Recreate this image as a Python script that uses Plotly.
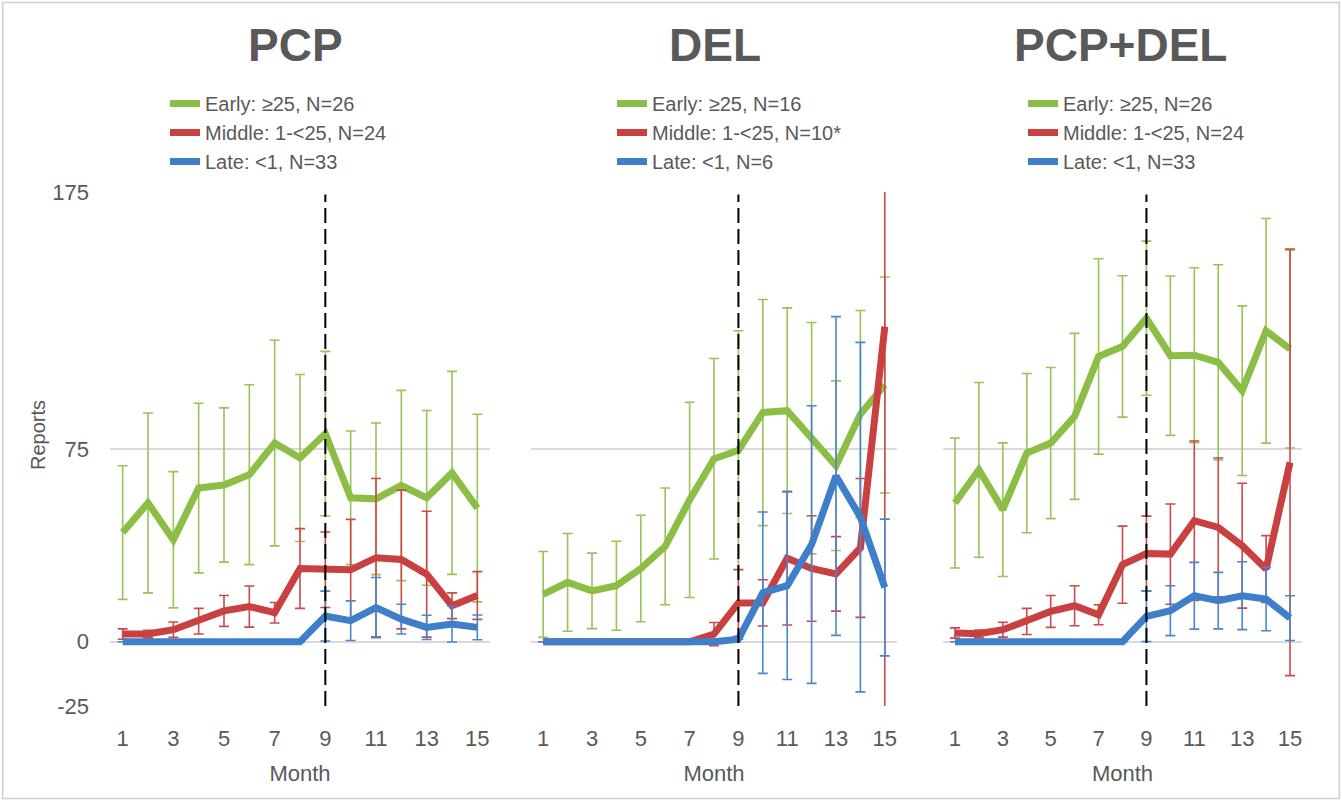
import plotly.graph_objects as go

months = list(range(1, 16))
month_ticks = [1, 3, 5, 7, 9, 11, 13, 15]
y_ticks = [-25, 0, 75, 175]
y_tick_text = ["-25", "0", "75", "175"]

panel_titles = ["PCP", "DEL", "PCP+DEL"]

# ---- PCP ----
pcp_early = [42.5, 54, 39.7, 59.8, 61, 65, 77.3, 71.5, 81, 56, 55.6, 60.8, 56, 65.7, 52]
pcp_early_err = [26, 35, 26.5, 33, 30, 35, 40, 32.5, 32, 26, 29.5, 37, 34, 39.5, 36.5]
pcp_middle = [3, 3, 4.7, 8, 12, 13.7, 11.3, 28.5, 28, 28, 32.7, 32, 26.3, 14, 18]
pcp_middle_err = [2, 1.5, 3, 5, 6, 8, 4, 15.5, 14.7, 19.6, 30.8, 27, 24.5, 5, 9.3]
pcp_late = [0, 0, 0, 0, 0, 0, 0, 0, 10, 8.2, 13.3, 8.8, 5.6, 6.9, 5.6]
pcp_late_err = [0, 0, 0, 0, 0, 0, 0, 0, 9.7, 7.7, 11.7, 5.8, 4.7, 7, 4.8]

# ---- DEL ----
del_early = [18.4, 23.1, 19.8, 21.8, 28.5, 37.1, 55.2, 71.2, 74.5, 89.2, 89.9, 79.2, 68.5, 88.6, 99.9]
del_early_err = [16.7, 19, 14.7, 17.3, 20.7, 22.7, 38, 39, 46.5, 44, 40, 45, 33, 40.3, 42]
del_middle = [0, 0, 0, 0, 0, 0, 0, 3, 15.1, 15.1, 32.5, 28.5, 26.4, 36.5, 122.6]
del_middle_err = [0, 0, 0, 0, 0, 0, 0, 4.5, 13, 9, 26, 20.5, 14.5, 27, 200]
del_late = [0, 0, 0, 0, 0, 0, 0, 0, 1, 19.1, 21.8, 37.8, 64.5, 48.5, 21.1]
del_late_err = [0, 0, 0, 0, 0, 0, 0, 0, 0, 31.4, 36.5, 54, 62, 68, 26.6]

# ---- PCP+DEL ----
both_early = [54, 66.9, 51.4, 73.4, 77.3, 87.7, 111, 114.9, 125.9, 111.3, 111.5, 108.7, 97.7, 121, 113.9]
both_early_err = [25.3, 34, 26, 31, 29.4, 32.3, 38, 27.5, 30, 31, 34, 38, 33, 43.7, 38.5]
both_middle = [3.4, 3.1, 4.7, 7.9, 11.8, 14, 10.5, 30, 34.3, 34.1, 47.1, 44.5, 37.4, 28.3, 69.8]
both_middle_err = [2, 1.5, 2.9, 5.1, 6.2, 7.8, 3.9, 15, 14.6, 19.5, 31, 27, 24.3, 13, 83]
both_late = [0, 0, 0, 0, 0, 0, 0, 0, 9.9, 12.1, 17.9, 16, 17.9, 16.6, 9.2]
both_late_err = [0, 0, 0, 0, 0, 0, 0, 0, 9.8, 9.7, 13, 11, 13.2, 12.3, 8.7]

pcp_names = ["Early: ≥25, N=26", "Middle: 1-&lt;25, N=24", "Late: &lt;1, N=33"]
del_names = ["Early: ≥25, N=16", "Middle: 1-&lt;25, N=10*", "Late: &lt;1, N=6"]
both_names = ["Early: ≥25, N=26", "Middle: 1-&lt;25, N=24", "Late: &lt;1, N=33"]

panels = [
    (pcp_names, [(pcp_early, pcp_early_err), (pcp_middle, pcp_middle_err), (pcp_late, pcp_late_err)]),
    (del_names, [(del_early, del_early_err), (del_middle, del_middle_err), (del_late, del_late_err)]),
    (both_names, [(both_early, both_early_err), (both_middle, both_middle_err), (both_late, both_late_err)]),
]

line_colors = ["#8CBE46", "#C8403F", "#3F7FCA"]
err_colors = ["#98C456", "#CC4A48", "#4A87CF"]

FONT = "Liberation Sans, Arial, sans-serif"
GRAY = "#595959"
W, H = 1342, 801

x_domains = [(110 / W, 490 / W), (531 / W, 897 / W), (943 / W, 1302 / W)]
y_domain = (1 - 706 / H, 1 - 192 / H)
title_x = [295, 715, 1120]
legend_x = [165, 612, 1023]

fig = go.Figure()
for p, (names, series) in enumerate(panels):
    ax = "" if p == 0 else str(p + 1)
    for s, (vals, errs) in enumerate(series):
        fig.add_trace(go.Scatter(
            x=months, y=vals, mode="lines", name=names[s],
            line=dict(color=line_colors[s], width=7),
            error_y=dict(type="data", array=errs, visible=True,
                         color=err_colors[s], thickness=1.6, width=5),
            xaxis="x" + ax, yaxis="y" + ax,
            legend="legend" + ax,
        ))

layout = dict(
    width=W, height=H, autosize=False,
    margin=dict(l=0, r=0, t=0, b=0, pad=0, autoexpand=False),
    paper_bgcolor="white", plot_bgcolor="white",
    font=dict(family=FONT, color=GRAY),
    showlegend=True,
)
shapes = []
annotations = []
for p in range(3):
    ax = "" if p == 0 else str(p + 1)
    layout["xaxis" + ax] = dict(
        domain=list(x_domains[p]), range=[0.5, 15.5], anchor="y" + ax,
        tickvals=month_ticks, showgrid=False, zeroline=False, showline=False,
        ticks="", ticklabelstandoff=17, automargin=False,
        tickfont=dict(size=22, color=GRAY, family=FONT),
        title=dict(text="Month", font=dict(size=22, color=GRAY, family=FONT)),
    )
    layout["yaxis" + ax] = dict(
        domain=list(y_domain), range=[-25, 175], anchor="x" + ax,
        tickvals=y_ticks, ticktext=y_tick_text,
        showgrid=True, gridcolor="#D9D9D9", gridwidth=1.5,
        zeroline=False, showline=False, ticks="", automargin=False,
        showticklabels=(p == 0), ticklabelstandoff=20,
        tickfont=dict(size=22, color=GRAY, family=FONT),
    )
    layout["legend" + ax] = dict(
        x=legend_x[p] / W, y=1 - 84 / H, xanchor="left", yanchor="top",
        bgcolor="rgba(0,0,0,0)", font=dict(size=20, color=GRAY, family=FONT),
        tracegroupgap=0, itemwidth=30,
    )
    shapes.append(dict(type="line", xref="x" + ax, yref="y" + ax,
                       x0=9, x1=9, y0=-25, y1=174,
                       line=dict(color="black", width=2, dash="15px,6px")))
    annotations.append(dict(text="<b>" + panel_titles[p] + "</b>", xref="paper", yref="paper",
                            x=title_x[p] / W, y=1 - 45 / H, xanchor="center", yanchor="middle",
                            showarrow=False, font=dict(size=46, color=GRAY, family=FONT)))

# y-axis title of the first panel
annotations.append(dict(text="Reports", xref="paper", yref="paper",
                        x=38 / W, y=1 - 435 / H, xanchor="center", yanchor="middle",
                        textangle=-90, showarrow=False,
                        font=dict(size=20, color=GRAY, family=FONT)))

shapes.append(dict(type="rect", xref="paper", yref="paper", x0=0.002, x1=0.998, y0=0.003, y1=0.997,
                   line=dict(color="#D0D0D0", width=1.5)))
layout["shapes"] = shapes
layout["annotations"] = annotations
fig.update_layout(**layout)

fig.write_html("out.html", config={"displayModeBar": False},
               post_script="document.body.style.margin='0';document.body.style.overflow='hidden';")
